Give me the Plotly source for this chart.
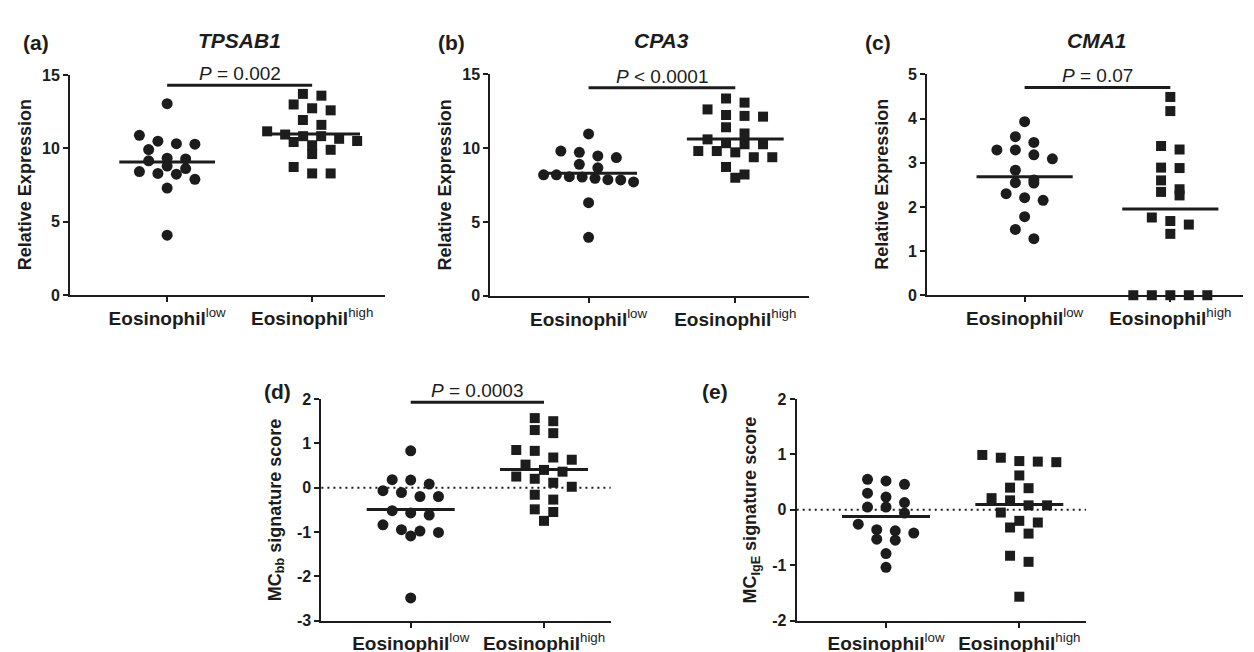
import numpy as np
import plotly.graph_objects as go

W, H = 1254, 652
FONT = "Arial, Liberation Sans, sans-serif"
INK = "#1c1c1c"

# ---------------- data ----------------
categories = ["Eosinophil<sup>low</sup>", "Eosinophil<sup>high</sup>"]
tick_text = ["<b>Eosinophil</b><sup>low</sup>", "<b>Eosinophil</b><sup>high</sup>"]

tpsab1_low = [13.05, 10.9, 10.5, 10.33, 10.29, 9.93, 9.34, 9.29, 9.16, 8.8, 8.63, 8.43, 8.3, 8.25, 7.9, 7.3, 4.09]
tpsab1_high = [13.72, 13.6, 13.0, 12.74, 12.6, 11.94, 11.61, 11.17, 10.95, 10.84, 10.84, 10.66, 10.51, 10.44,
               10.22, 9.91, 9.62, 8.74, 8.3, 8.3]
cpa3_low = [10.97, 9.81, 9.72, 9.48, 9.37, 8.91, 8.67, 8.2, 8.2, 8.07, 8.05, 7.96, 7.87, 7.85, 7.72, 6.31, 3.96]
cpa3_high = [13.37, 13.09, 12.63, 12.25, 12.19, 12.14, 11.42, 11.0, 10.6, 10.34, 10.27, 10.27, 9.81, 9.81,
             9.72, 9.39, 9.39, 8.73, 8.22, 8.0]
cma1_low = [3.93, 3.59, 3.46, 3.29, 3.29, 3.18, 3.09, 2.83, 2.61, 2.55, 2.54, 2.3, 2.21, 2.15, 1.78, 1.49, 1.28]
cma1_high = [4.49, 4.17, 3.38, 3.3, 2.89, 2.88, 2.6, 2.4, 2.34, 2.26, 1.76, 1.68, 1.6, 1.39, 0, 0, 0, 0, 0]
mcbb_low = [0.83, 0.18, 0.17, 0.08, -0.07, -0.11, -0.2, -0.2, -0.52, -0.57, -0.62, -0.84, -0.95, -0.98,
            -1.01, -1.09, -2.49]
mcbb_high = [1.57, 1.5, 1.30, 1.23, 0.85, 0.83, 0.68, 0.63, 0.52, 0.40, 0.36, 0.25, 0.2, 0.11, 0.02,
             -0.16, -0.27, -0.49, -0.55, -0.75]
mcige_low = [0.55, 0.52, 0.46, 0.30, 0.23, 0.13, 0.05, 0.05, -0.06, -0.26, -0.36, -0.38, -0.42, -0.53,
             -0.55, -0.79, -1.04]
mcige_high = [0.99, 0.94, 0.88, 0.87, 0.86, 0.62, 0.40, 0.39, 0.21, 0.17, 0.08, 0.08, -0.05, -0.2, -0.23,
              -0.32, -0.43, -0.83, -0.94, -1.57]

panel_labels = ["(a)", "(b)", "(c)", "(d)", "(e)"]
gene_titles = ["TPSAB1", "CPA3", "CMA1", "", ""]
y_titles = ["Relative Expression", "Relative Expression", "Relative Expression",
            "MC<sub>bb</sub> signature score", "MC<sub>IgE</sub> signature score"]
p_texts = ["<i>P</i> = 0.002", "<i>P</i> < 0.0001", "<i>P</i> = 0.07", "<i>P</i> = 0.0003", None]

# ---------------- layout geometry (pixels) ----------------
panels = [
    dict(low=tpsab1_low, high=tpsab1_high, x0=62, unit=145.0, ytop=60.7, ybot=286.7, yr=[0, 15], dt=5,
         lab=(28, 27), bracket=71, zero=False),
    dict(low=cpa3_low, high=cpa3_high, x0=482.3, unit=146.7, ytop=60.0, ybot=287.3, yr=[0, 15], dt=5,
         lab=(443, 27), bracket=73.7, zero=False),
    dict(low=cma1_low, high=cma1_high, x0=919, unit=145.7, ytop=60.0, ybot=286.7, yr=[0, 5], dt=1,
         lab=(870, 27), bracket=73.3, zero=False),
    dict(low=mcbb_low, high=mcbb_high, x0=313.4, unit=133.3, ytop=393.3, ybot=620.7, yr=[-3, 2], dt=1,
         lab=(269, 386), bracket=396.7, zero=True),
    dict(low=mcige_low, high=mcige_high, x0=788.7, unit=133.3, ytop=393.3, ybot=620.7, yr=[-2, 2], dt=1,
         lab=(707, 386), bracket=None, zero=True),
]
XR = [-0.67, 1.5]
MARK_PX = 10.5
STEP_PX = 18.5
MAX_HALF_PX = 45


def swarm(vals, h, step, max_half):
    """GraphPad-like row binning scatter: points within one marker height share a row."""
    vals = np.asarray(vals, float)
    order = np.argsort(-vals, kind="stable")
    offs = np.zeros(len(vals))
    i = 0
    while i < len(order):
        start = vals[order[i]]
        j = i
        while j < len(order) and start - vals[order[j]] < h:
            j += 1
        row = order[i:j]
        n = len(row)
        s = step if n < 2 else min(step, 2 * max_half / (n - 1))
        for k, idx in enumerate(row):
            offs[idx] = (k - (n - 1) / 2) * s
        i = j
    return offs


fig = go.Figure()
layout = dict(
    width=W, height=H, margin=dict(l=0, r=0, t=0, b=0),
    paper_bgcolor="white", plot_bgcolor="white", showlegend=False,
    font=dict(family=FONT, color=INK),
)
shapes, annotations = [], []

for i, p in enumerate(panels):
    sfx = "" if i == 0 else str(i + 1)
    xa, ya = "x" + sfx, "y" + sfx
    x1 = p["x0"] + p["unit"] * (XR[1] - XR[0])
    yscale = (p["ybot"] - p["ytop"]) / (p["yr"][1] - p["yr"][0])
    h = MARK_PX / yscale
    step = STEP_PX / p["unit"]
    max_half = MAX_HALF_PX / p["unit"]

    for c, (vals, sym, size) in enumerate([(p["low"], "circle", 11), (p["high"], "square", 10)]):
        offs = swarm(vals, h, step, max_half)
        fig.add_trace(go.Scatter(
            x=c + offs, y=vals, mode="markers", xaxis=xa, yaxis=ya, cliponaxis=False,
            marker=dict(symbol=sym, size=size, color=INK, line=dict(width=0)),
            name=categories[c], hoverinfo="y"))
        m = float(np.mean(vals))
        fig.add_trace(go.Scatter(
            x=[c - 0.33, c + 0.33], y=[m, m], mode="lines", xaxis=xa, yaxis=ya, cliponaxis=False,
            line=dict(color=INK, width=3), hoverinfo="skip"))

    axis_common = dict(showline=True, linewidth=2, linecolor=INK, ticks="outside", ticklen=5,
                       tickwidth=2, tickcolor=INK, showgrid=False, zeroline=False, fixedrange=True)
    yt = np.arange(p["yr"][0], p["yr"][1] + p["dt"] / 2, p["dt"])
    layout["xaxis" + sfx] = dict(
        domain=[p["x0"] / W, x1 / W], range=XR, tickvals=[0, 1], ticktext=tick_text,
        tickfont=dict(size=19, family=FONT, color=INK), anchor=ya, **axis_common)
    layout["yaxis" + sfx] = dict(
        domain=[1 - p["ybot"] / H, 1 - p["ytop"] / H], range=p["yr"], tickvals=list(yt),
        ticktext=["<b>%d</b>" % v for v in yt],
        tickfont=dict(size=16, family=FONT, color=INK), anchor=xa, **axis_common)

    # y-axis title
    annotations.append(dict(
        text="<b>" + y_titles[i] + "</b>", textangle=-90, xref="paper", yref="paper",
        x=(p["x0"] - 45) / W, y=1 - (p["ytop"] + p["ybot"]) / 2 / H, showarrow=False,
        font=dict(size=18, family=FONT, color=INK), xanchor="center", yanchor="middle"))
    # panel label
    annotations.append(dict(
        text="<b>" + panel_labels[i] + "</b>", xref="paper", yref="paper", x=p["lab"][0] / W,
        y=1 - p["lab"][1] / H, showarrow=False, font=dict(size=21, family=FONT, color=INK),
        xanchor="center", yanchor="middle"))
    # gene title
    if gene_titles[i]:
        annotations.append(dict(
            text="<b><i>" + gene_titles[i] + "</i></b>", xref=xa, yref="paper", x=0.5,
            y=1 - 25 / H, showarrow=False, font=dict(size=21, family=FONT, color=INK),
            xanchor="center", yanchor="middle"))
    # significance bracket
    if p["bracket"] is not None:
        yb = 1 - p["bracket"] / H
        shapes.append(dict(type="line", xref=xa, yref="paper", x0=0, x1=1, y0=yb, y1=yb,
                           line=dict(color=INK, width=3)))
        annotations.append(dict(
            text=p_texts[i], xref=xa, yref="paper", x=0.5, y=1 - (p["bracket"] - 12) / H,
            showarrow=False, font=dict(size=19, family=FONT, color=INK),
            xanchor="center", yanchor="middle"))
    # dotted zero reference line
    if p["zero"]:
        shapes.append(dict(type="line", xref=xa + " domain", yref=ya, x0=0, x1=1, y0=0, y1=0,
                           layer="below", line=dict(color=INK, width=2, dash="2px,4px")))

layout["shapes"] = shapes
layout["annotations"] = annotations
fig.update_layout(**layout)
fig.write_html("out.html")
